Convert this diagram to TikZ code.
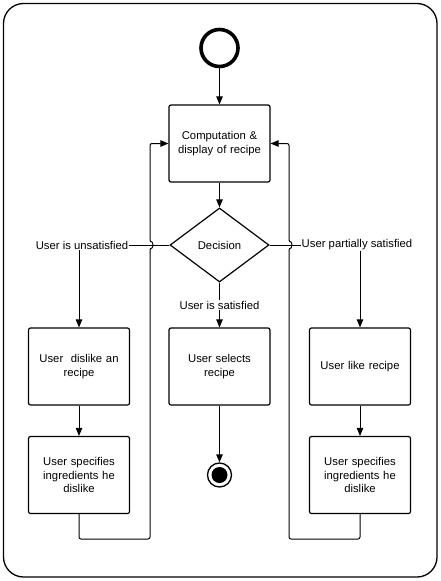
\documentclass[tikz,border=0pt]{standalone}
\usepackage{fontspec}
\setmainfont{Liberation Sans}
\usetikzlibrary{shapes.geometric,arrows.meta}
\begin{document}
\begin{tikzpicture}[x=1pt,y=-1pt,
  every node/.style={font=\fontsize{11.3}{13.4}\selectfont},
  box/.style={draw, line width=1.2pt, rounded corners=2pt, minimum width=101pt, minimum height=77pt, align=center, inner sep=2pt, text width=95pt},
  lbl/.style={inner sep=1pt},
  conn/.style={line width=1pt},
  arr/.style={conn, -{Triangle[length=8pt,width=6.5pt]}},
  loop/.style={arr, rounded corners=2pt}]
\useasboundingbox (0,0) rectangle (441,581);
\draw[line width=1.3pt, rounded corners=20pt] (3.5,3.5) rectangle (437,577);

\node[circle, draw, line width=3.6pt, minimum size=37pt, inner sep=0] (s) at (219.5,48) {};
\node[box] (c) at (219.5,143.5) {Computation \&\\display of recipe};
\node[diamond, draw, line width=1.2pt, minimum width=99pt, minimum height=74pt, inner sep=0] (d) at (219.5,245) {Decision};

\node[lbl] (ul) at (82,245) {User is unsatisfied};
\node[lbl] (us) at (219.5,305) {User is satisfied};
\node[lbl] (ur) at (357,245) {User partially satisfied};

\node[box] (l1) at (79,366.5) {User\ \ dislike an\\recipe};
\node[box] (l2) at (79,475) {User specifies\\ingredients he\\dislike};
\node[box] (m1) at (219.5,366.5) {User selects\\recipe};
\node[box] (r1) at (360,366.5) {User like recipe};
\node[box] (r2) at (360,475) {User specifies\\ingredients he\\dislike};

\node[circle, draw, line width=1.3pt, minimum size=24pt, inner sep=0] (e) at (219.5,475) {};
\node[circle, fill=black, minimum size=16pt, inner sep=0] (ei) at (219.5,475) {};

\draw[arr] (s) -- (c);
\draw[arr] (c) -- (d);
\draw[conn] (d.west) -- (ul.east);
\draw[conn] (d.east) -- (ur.west);
\draw[conn] (d.south) -- (us.north);
\draw[arr] (us.south) -- (m1.north);
\draw[arr] (ul.south -| l1.north) -- (l1.north);
\draw[arr] (ur.south -| r1.north) -- (r1.north);
\draw[arr] (l1) -- (l2);
\draw[arr] (r1) -- (r2);
\draw[arr] (m1) -- (e);
\draw[loop] (l2.south) |- (150,539) -- (150,248) arc[start angle=-90, end angle=90, radius=3pt] -- (150,143.5) -- (c.west);
\draw[loop] (r2.south) |- (289,539) -- (289,248) arc[start angle=-90, end angle=90, radius=3pt] -- (289,143.5) -- (c.east);
\end{tikzpicture}
\end{document}
